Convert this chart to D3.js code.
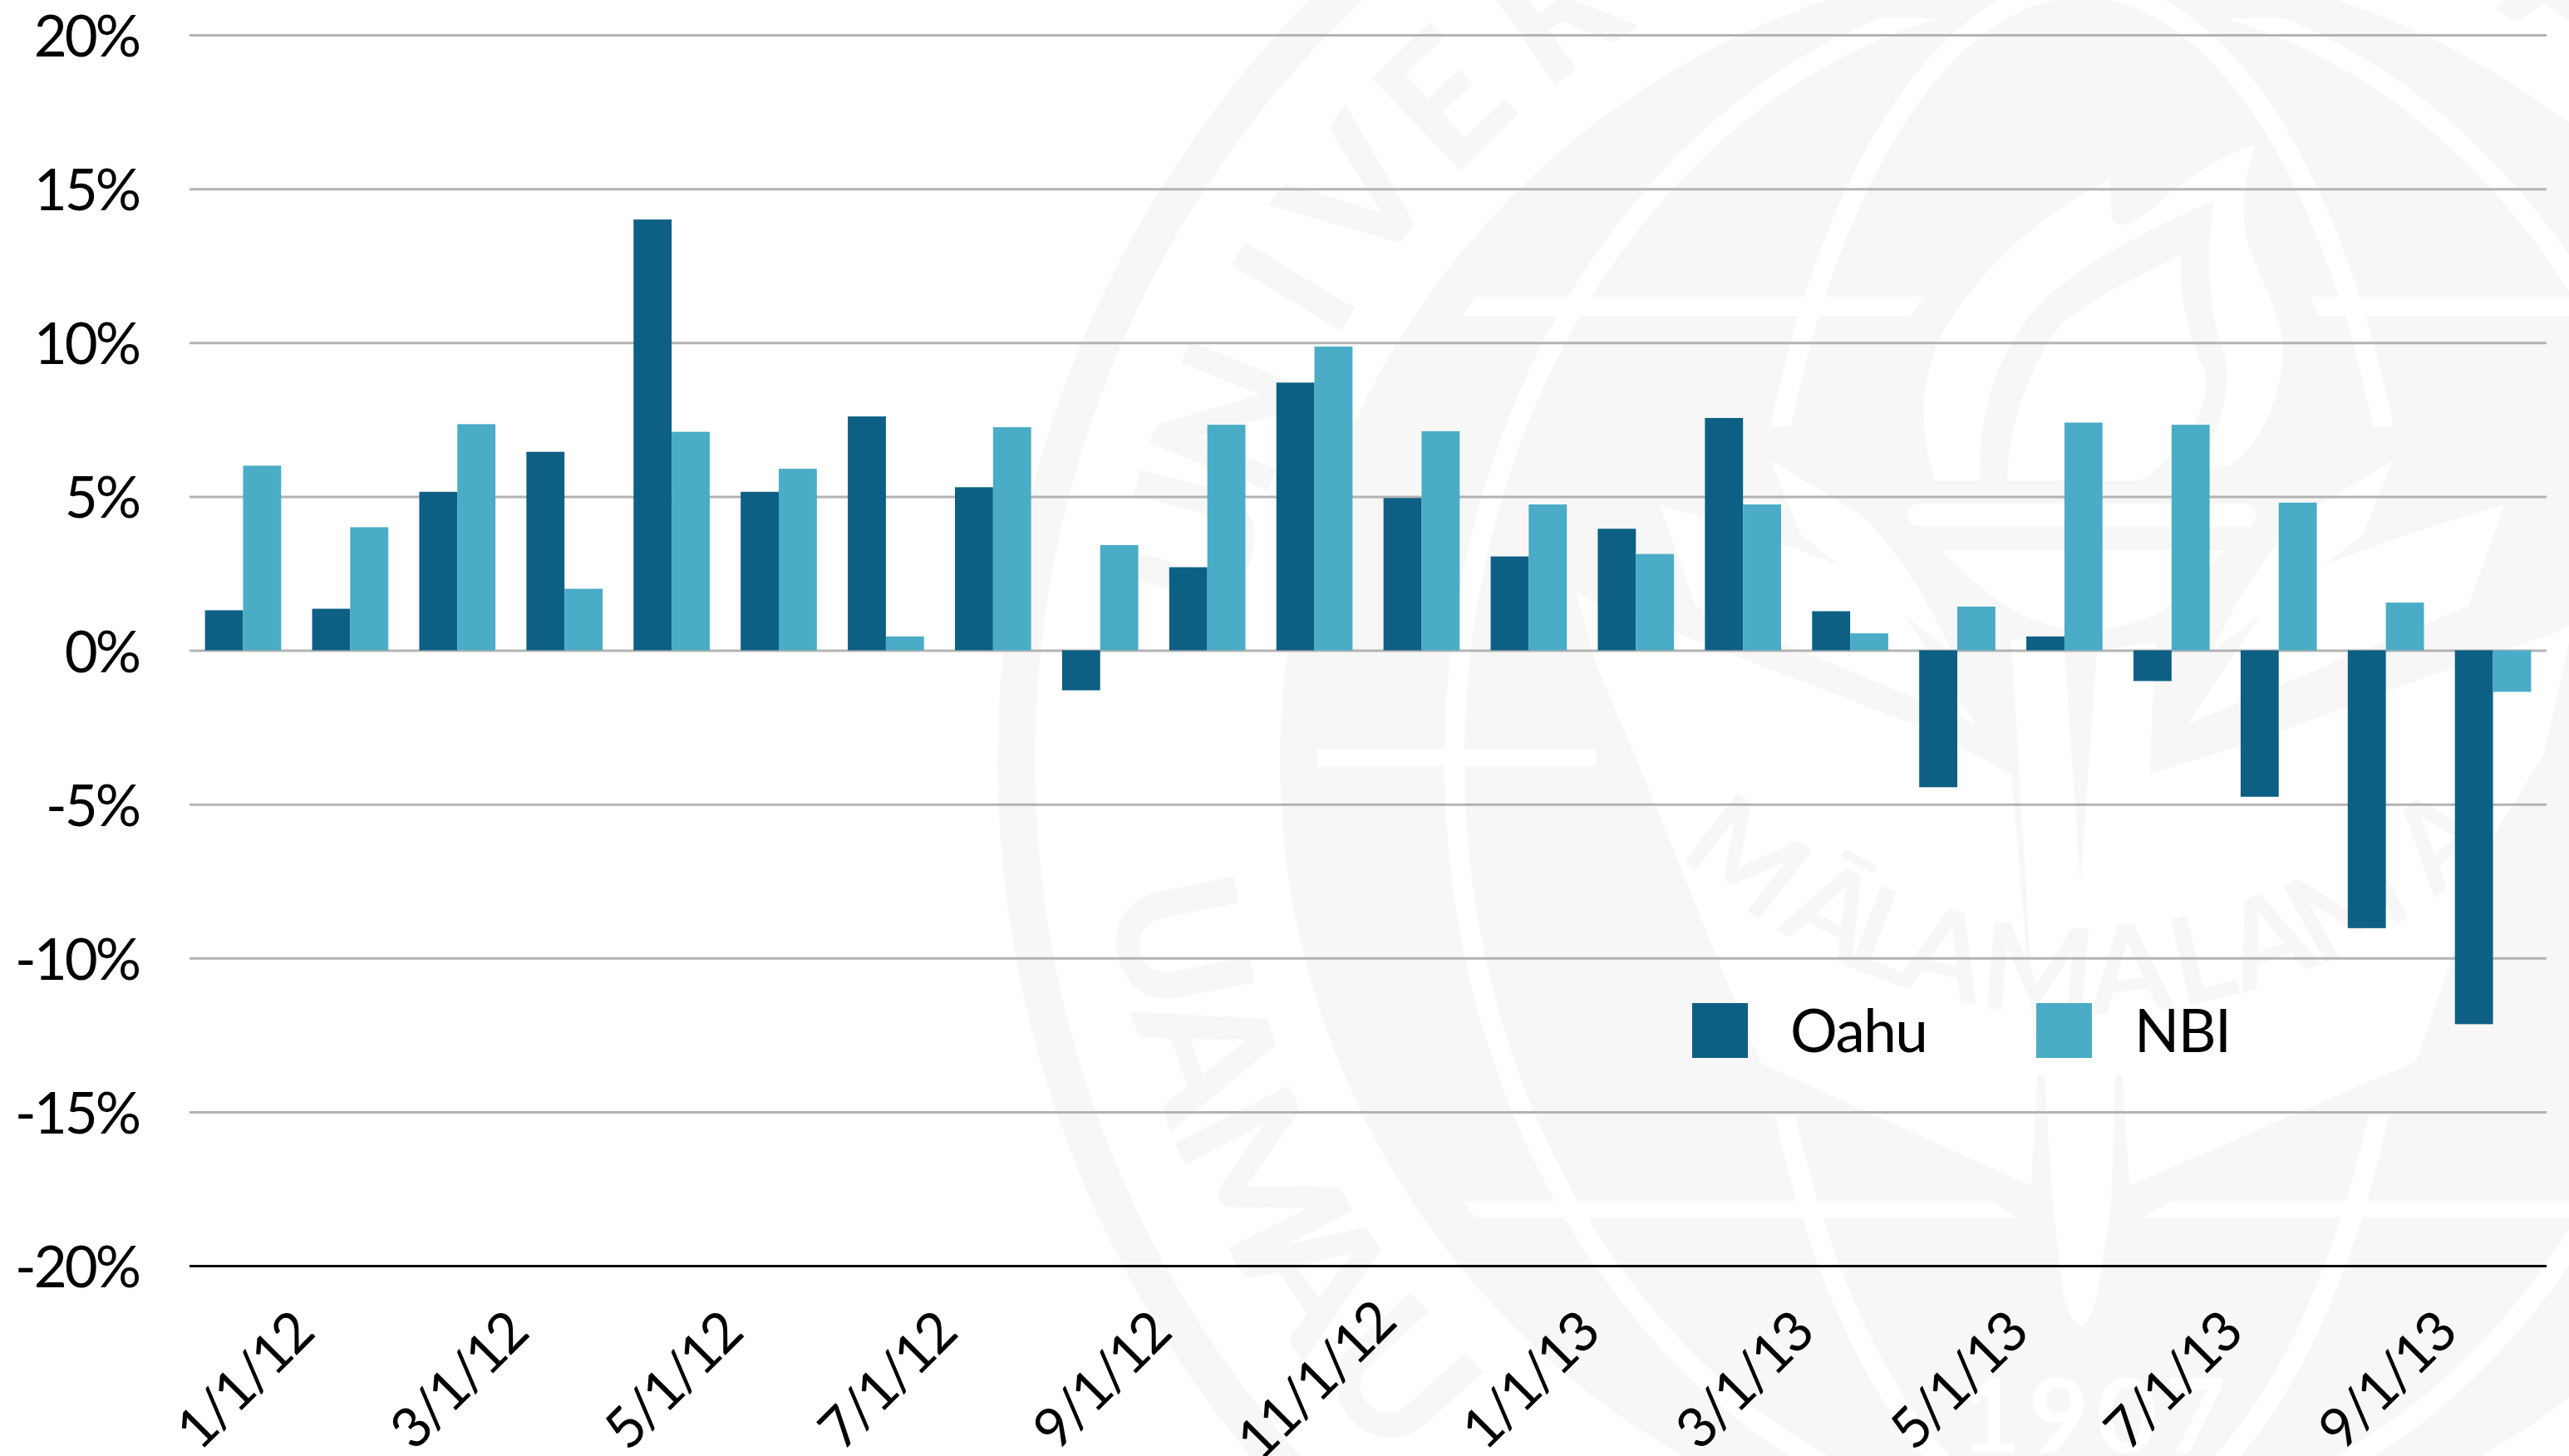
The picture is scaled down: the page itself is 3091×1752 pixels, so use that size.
<!DOCTYPE html>
<html><head><meta charset="utf-8">
<script src="https://cdn.jsdelivr.net/npm/d3@7"></script>
<style>html,body{margin:0;padding:0;background:#fff;overflow:hidden}svg{display:block}text{font-family:Lato,sans-serif;fill:#000}</style>
</head><body><svg id="c" width="3091" height="1752"></svg>
<script>
const months=["1/1/12","2/1/12","3/1/12","4/1/12","5/1/12","6/1/12","7/1/12","8/1/12","9/1/12","10/1/12","11/1/12","12/1/12","1/1/13","2/1/13","3/1/13","4/1/13","5/1/13","6/1/13","7/1/13","8/1/13","9/1/13","10/1/13"];
const oahu=[1.3,1.35,5.15,6.45,14.0,5.15,7.6,5.3,-1.3,2.7,8.7,4.95,3.05,3.95,7.55,1.27,-4.45,0.45,-1.0,-4.76,-9.03,-12.15];
const nbi=[6.0,4.0,7.35,2.0,7.1,5.9,0.45,7.25,3.42,7.33,9.87,7.12,4.74,3.13,4.74,0.55,1.42,7.4,7.33,4.8,1.55,-1.35];
const yTicks=[20,15,10,5,0,-5,-10,-15,-20];
const seriesNames=["Oahu","NBI"];
const seriesColors=["#0e5f84","#4aacc6"];

const svg=d3.select("#c");
const GRAY="#f7f7f7";
// ---------- background seal (decorative) ----------
const seal=svg.append("g");
const cx=2505,cy=915;
seal.append("circle").attr("cx",cx).attr("cy",cy).attr("r",1282).attr("fill","none").attr("stroke",GRAY).attr("stroke-width",45);
seal.append("circle").attr("cx",cx).attr("cy",cy).attr("r",965).attr("fill",GRAY);
const white=(d)=>seal.append("path").attr("d",d).attr("fill","#fff");
const meridian=(rx,clip)=>seal.append("ellipse").attr("cx",cx).attr("cy",cy).attr("rx",rx).attr("ry",930).attr("fill","none").attr("stroke","#fff").attr("stroke-width",24).attr("clip-path",clip||null);
const defs=svg.append("defs");
defs.append("clipPath").attr("id","outerM").append("path").attr("d","M0,22H3091V1752H0Z");
defs.append("clipPath").attr("id","innerM").append("path").attr("d","M0,0H3091V513H0ZM0,1342H3091V1752H0Z");
// latitudes
white("M1775,357H2315L2298,380H1760Z");
white("M2780,357H3091V380H2790Z");
seal.append("rect").attr("x",1585).attr("y",902).attr("width",335).attr("height",20).attr("fill","#fff");
white("M1760,1445H2395L2428,1465H1775Z");
white("M2615,1445H3091V1465H2578Z");
// wings and central column
white("M1897,715L2080,786L2325,880L2420,932L2451,1293L2444,1427L2119,1280L2064,1148L1985,952L1921,800Z");
white("M2586,932L2721,889L2910,818L3077,760L3091,752V773L3061,907L3006,996L2958,1130L2907,1277L2562,1427L2554,1293Z");
white("M2420,769H2483L2503,1063L2523,783L2594,773L2586,932L2554,1293H2451Z");
white("M2459,1280L2470,1450L2483,1560Q2503,1630 2523,1560L2540,1450L2546,1280Z");
meridian(755,"url(#outerM)");
meridian(402,"url(#innerM)");
// leaves beside the bowl
white("M2131,554L2167,644L2349,785Q2300,680 2240,620Z");
white("M2879,554L2843,644L2661,785Q2710,680 2770,620Z");
white("M1997,608L2040,729L2377,871L2266,702Q2120,640 1997,608Z");
white("M3013,608L2970,729L2633,871L2744,702Q2890,640 3013,608Z");
// torch
seal.append("rect").attr("x",2296).attr("y",606).attr("width",418).attr("height",28).attr("rx",14).attr("fill","#fff");
seal.append("path").attr("d",d3.line().curve(d3.curveCatmullRom)([[2335,662],[2400,720],[2448,746],[2515,758],[2601,735],[2677,662]])+"Z").attr("fill","#fff");
seal.append("path").attr("d","M2329,578C2300,500 2320,420 2349,382C2390,320 2450,260 2538,216L2541,264C2550,280 2580,262 2601,241C2640,205 2680,185 2714,174C2700,210 2695,260 2704,290C2720,340 2747,380 2747,420C2745,490 2710,545 2681,561L2575,578Z").attr("fill","#fff");
seal.append("path").attr("d","M2382,578C2380,500 2400,430 2450,370C2510,310 2600,270 2664,241C2655,300 2655,370 2675,420C2690,480 2660,550 2625,578Z").attr("fill",GRAY);
seal.append("path").attr("d","M2415,578C2415,520 2440,440 2482,387C2530,350 2590,325 2624,306C2622,350 2630,400 2654,449C2660,490 2625,550 2575,578Z").attr("fill","#fff");
// ring letters
const ringLetters=[["U",76,1],["N",68,1],["I",59,1],["V",52,1],["E",44,1],["R",35,1],["A",-33,1],["U",101.4,-1],["A",108.5,-1],["M",117,-1],["A",124,-1],["U",132,-1]];
seal.selectAll("text.ring").data(ringLetters).join("text").attr("class","ring")
 .text(d=>d[0]).attr("text-anchor","middle").style("font-size","212px").style("font-weight",900).style("fill",GRAY)
 .attr("transform",d=>{const t=d[1]*Math.PI/180,x=cx-1106*Math.sin(t),y=cy-1106*Math.cos(t),r=d[2]>0?-d[1]:180-d[1];return `translate(${x},${y}) rotate(${r}) translate(0,76)`;});
// motto
const motto=[..."MĀLAMALAMA"];
const mottoX=[2103,2206,2269,2341,2452,2562,2649,2728,2823,2934];
seal.selectAll("text.motto").data(motto).join("text").attr("class","motto").text(d=>d)
 .attr("text-anchor","middle").style("font-size","145px").style("font-weight",700).style("fill",GRAY)
 .attr("transform",(d,i)=>{const s=(mottoX[i]-cx)/656,a=-Math.asin(s)*180/Math.PI,y=512+656*Math.sqrt(1-s*s);return `translate(${mottoX[i]},${y}) rotate(${a}) translate(0,52)`;});
// year
seal.selectAll("text.yr").data([..."1907"]).join("text").attr("class","yr").text(d=>d).attr("text-anchor","middle")
 .style("font-size","125px").style("font-weight",700).style("fill","#fff")
 .attr("x",(d,i)=>2395+i*82).attr("y",1748);

// ---------- chart ----------
const x=d3.scaleBand().domain(months).range([228,3064]).paddingInner(0.289).paddingOuter(0.1445);
const x1=d3.scaleBand().domain(seriesNames).range([0,x.bandwidth()]);
const y=d3.scaleLinear().domain([-20,20]).range([1523,42]);
const color=d3.scaleOrdinal(seriesNames,seriesColors);

const yAxis=d3.axisLeft(y).tickValues(yTicks).tickSize(-(3064-228)).tickPadding(0).tickFormat(d=>d+"%");
const gy=svg.append("g").attr("transform","translate(228,0)").call(yAxis);
gy.select(".domain").remove();
gy.selectAll(".tick line").attr("stroke",d=>d===-20?"#000":"#b3b3b3").attr("stroke-width",3);
gy.selectAll(".tick text").attr("x",-61).attr("dy","0.37em").style("font-size","69px").style("letter-spacing","-3px");

const data=[oahu,nbi];
svg.append("g").selectAll("g").data(seriesNames).join("g").attr("fill",d=>color(d))
 .selectAll("rect").data((d,s)=>data[s].map((v,i)=>({s:d,v,m:months[i]}))).join("rect")
 .attr("x",d=>x(d.m)+x1(d.s)).attr("width",x1.bandwidth())
 .attr("y",d=>y(Math.max(0,d.v))).attr("height",d=>Math.abs(y(d.v)-y(0)));

const xAxis=d3.axisBottom(x).tickValues(months.filter((m,i)=>i%2===0)).tickSize(0);
const gx=svg.append("g").attr("transform","translate(0,1523)").call(xAxis);
gx.select(".domain").remove();
gx.selectAll(".tick text").attr("text-anchor","middle").attr("y",0).attr("dy",0)
 .attr("transform","translate(0,137) rotate(-45) translate(0,25)").style("font-size","67px").style("letter-spacing","-3px");

// legend
const lg=svg.append("g").selectAll("g").data(seriesNames).join("g");
const lgX=d3.scaleOrdinal(seriesNames,[2036,2450]);
lg.append("rect").attr("x",d=>lgX(d)).attr("y",1207).attr("width",67).attr("height",66).attr("fill",d=>color(d));
lg.append("text").text(d=>d).attr("x",d=>lgX(d)+118).attr("y",1266).style("font-size","71px").style("letter-spacing","-1.5px");
</script></body></html>
